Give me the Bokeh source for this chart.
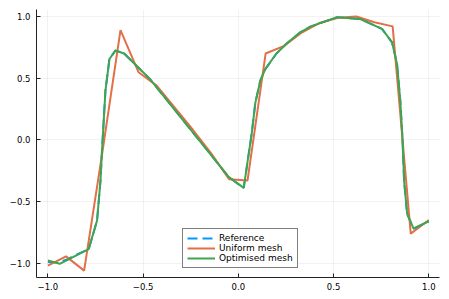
from bokeh.plotting import figure
from bokeh.models import Range1d, FixedTicker, Legend, LegendItem
from bokeh.embed import file_html
from bokeh.resources import INLINE

# Reference (smooth) curve
ref_x = [-1.0, -0.95, -0.9, -0.85, -0.8, -0.786, -0.742, -0.724, -0.716, -0.698, -0.677, -0.646,
         -0.6, -0.462, -0.051, 0.0, 0.028, 0.07, 0.089, 0.115, 0.142, 0.2, 0.255, 0.325, 0.378,
         0.518, 0.640, 0.754, 0.807, 0.833, 0.85, 0.862, 0.870, 0.886, 0.92, 1.0]
ref_y = [-0.99, -0.995, -0.97, -0.93, -0.895, -0.886, -0.654, -0.33, -0.087, 0.40, 0.656, 0.724,
         0.70, 0.489, -0.30, -0.36, -0.389, 0.05, 0.30, 0.48, 0.575, 0.70, 0.783, 0.872, 0.918,
         0.994, 0.98, 0.90, 0.79, 0.616, 0.32, 0.0, -0.33, -0.60, -0.72, -0.66]

# Uniform mesh (21 intervals)
uni_x = [-1.0, -0.905, -0.810, -0.714, -0.619, -0.524, -0.429, -0.333, -0.238, -0.143, -0.048,
         0.048, 0.143, 0.238, 0.333, 0.429, 0.524, 0.619, 0.714, 0.810, 0.905, 1.0]
uni_y = [-1.02, -0.945, -1.06, -0.10, 0.89, 0.548, 0.44, 0.26, 0.08, -0.11, -0.32,
         -0.33, 0.70, 0.76, 0.87, 0.95, 0.99, 1.0, 0.953, 0.92, -0.76, -0.65]

# Optimised mesh
opt_x = [-1.0, -0.938, -0.786, -0.742, -0.724, -0.716, -0.698, -0.677, -0.646, -0.6, -0.462,
         -0.051, 0.028, 0.07, 0.089, 0.115, 0.142, 0.2, 0.255, 0.325, 0.378, 0.518, 0.640,
         0.754, 0.807, 0.833, 0.85, 0.862, 0.870, 0.886, 0.92, 1.0]
opt_y = [-0.978, -1.005, -0.886, -0.654, -0.33, -0.087, 0.40, 0.656, 0.724, 0.70, 0.489,
         -0.30, -0.389, 0.05, 0.30, 0.48, 0.575, 0.70, 0.783, 0.872, 0.918, 0.994, 0.98,
         0.90, 0.79, 0.616, 0.32, 0.0, -0.33, -0.60, -0.72, -0.66]

x_ticks = [-1.0, -0.5, 0.0, 0.5, 1.0]
x_tick_labels = ["\u22121.0", "\u22120.5", "0.0", "0.5", "1.0"]
y_ticks = [-1.0, -0.5, 0.0, 0.5, 1.0]
y_tick_labels = ["\u22121.0", "\u22120.5", "0.0", "0.5", "1.0"]

BLUE = "#009AFA"
ORANGE = "#E36F47"
GREEN = "#3EA44E"
FONT = "DejaVu Sans"

p = figure(width=449, height=299, output_backend="svg", toolbar_location=None,
           x_range=Range1d(-1.06, 1.056), y_range=Range1d(-1.116, 1.057),
           min_border_left=36, min_border_right=10, min_border_top=9, min_border_bottom=22)
p.outline_line_color = None
p.background_fill_color = "white"

r_ref = p.line(ref_x, ref_y, line_color=BLUE, line_width=2, line_dash="10 5")
r_uni = p.line(uni_x, uni_y, line_color=ORANGE, line_width=2)
r_opt = p.line(opt_x, opt_y, line_color=GREEN, line_width=2)

p.xaxis.ticker = FixedTicker(ticks=x_ticks)
p.yaxis.ticker = FixedTicker(ticks=y_ticks)
p.xaxis.major_label_overrides = dict(zip(x_ticks, x_tick_labels))
p.yaxis.major_label_overrides = dict(zip(y_ticks, y_tick_labels))
for ax in (p.xaxis, p.yaxis):
    ax.major_tick_in = 4
    ax.major_tick_out = 0
    ax.minor_tick_in = 0
    ax.minor_tick_out = 0
    ax.axis_line_color = "#222222"
    ax.major_tick_line_color = "#222222"
    ax.major_label_text_font = FONT
    ax.major_label_text_font_size = "8.5px"
    ax.major_label_text_color = "black"
p.xaxis.major_label_standoff = 5
p.yaxis.major_label_standoff = 6

p.xgrid.ticker = FixedTicker(ticks=x_ticks)
p.ygrid.ticker = FixedTicker(ticks=y_ticks)
p.grid.grid_line_color = "black"
p.grid.grid_line_alpha = 0.1
p.grid.grid_line_width = 0.5

legend = Legend(items=[LegendItem(label="Reference", renderers=[r_ref]),
                       LegendItem(label="Uniform mesh", renderers=[r_uni]),
                       LegendItem(label="Optimised mesh", renderers=[r_opt])],
                location=(146, 9))
legend.label_text_font = FONT
legend.label_text_font_size = "9px"
legend.label_text_color = "black"
legend.glyph_width = 28
legend.glyph_height = 10
legend.label_height = 10
legend.label_standoff = 4
legend.spacing = 0
legend.padding = 4
legend.margin = 0
legend.border_line_color = "black"
legend.border_line_width = 1
legend.background_fill_color = "white"
legend.background_fill_alpha = 1.0
p.add_layout(legend, "center")

open("out.html", "w").write(file_html(p, INLINE))
